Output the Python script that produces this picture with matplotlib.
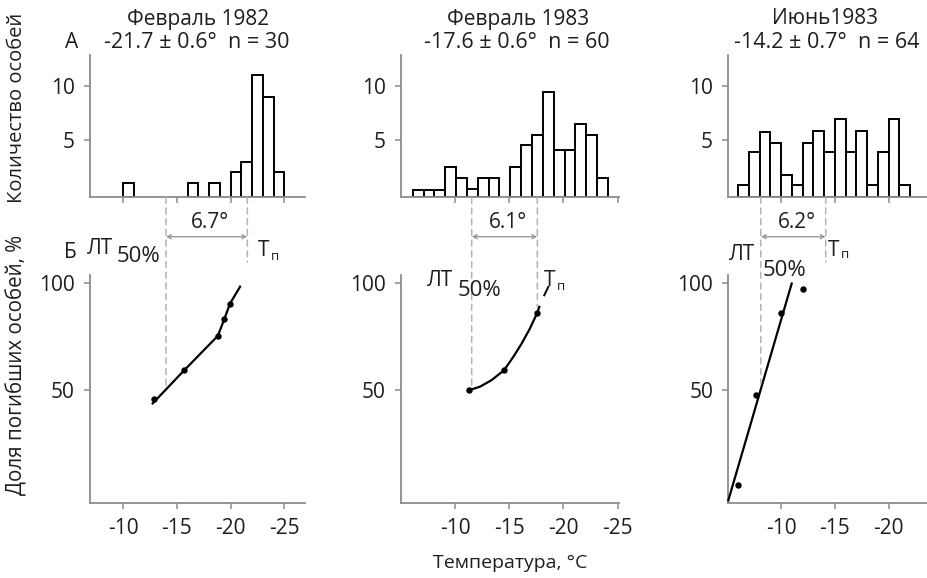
import matplotlib
matplotlib.use("Agg")
import matplotlib.pyplot as plt
from matplotlib.patches import ConnectionPatch

plt.rcParams['font.family'] = ['Open Sans', 'DejaVu Sans']
plt.rcParams['axes.unicode_minus'] = False

# === Data
titles = ["Февраль 1982", "Февраль 1983", "Июнь1983"]
stats = ["-21.7 ± 0.6°  n = 30", "-17.6 ± 0.6°  n = 60", "-14.2 ± 0.7°  n = 64"]
delta_labels = ["6.7°", "6.1°", "6.2°"]

# histograms: first bin edge (°C), 1-degree bins going colder
hist1_start = -10.0
hist1_counts = [1, 0, 0, 0, 0, 0, 1, 0, 1, 0, 2, 3, 11, 9, 2]
hist2_start = -6.1
hist2_counts = [0.4, 0.4, 0.4, 2.5, 1.5, 0.45, 1.5, 1.5, 0, 2.5, 4.5, 5.5, 9.4, 4.1, 4.1, 6.5, 5.5, 1.5]
hist3_start = -6.0
hist3_counts = [0.8, 3.9, 5.7, 4.7, 1.8, 0.8, 4.7, 5.8, 3.9, 6.9, 3.9, 5.8, 0.8, 3.9, 6.9, 0.8]

# mortality curves (% dead vs temperature)
curve1_t = [-12.74, -15.68, -18.8, -19.41, -19.94, -20.88]
curve1_p = [43.8, 59.3, 75.3, 83.1, 90.4, 98.3]
pts1_t = [-12.86, -15.68, -18.8, -19.41, -19.94]
pts1_p = [45.8, 59.3, 75.3, 83.1, 90.4]

curve2_t = [-11.32, -12.3, -13.38, -14.52, -15.37, -16.15, -16.91, -17.59, -17.77]
curve2_p = [50.0, 51.6, 54.7, 59.3, 65.5, 71.8, 78.8, 86.2, 88.9]
curve2_ext_t = [-18.23, -18.6]
curve2_ext_p = [94.3, 98.2]
pts2_t = [-11.32, -14.52, -17.59]
pts2_p = [50.0, 59.3, 86.2]

curve3_t = [-5.1, -10.99]
curve3_p = [-1.5, 99.8]
pts3_t = [-5.98, -7.68, -9.97, -12.01]
pts3_p = [5.7, 47.7, 85.8, 97.1]

# LT50% and Tп positions and where their guide lines end on the lower panel
lt50 = [-13.98, -11.54, -8.12]
tp = [-21.56, -17.59, -14.15]
lt50_end = [52, 52, 53]
tp_end = [109.8, 89.0, 109.8]

xticks = [[-10, -15, -20, -25], [-10, -15, -20, -25], [-10, -15, -20]]

# === Layout (pixels of a 927x578 canvas)
W, H = 927, 578
panel_px = [(90, 305), (401, 619), (728.3, 927)]
panel_xlim = [(-6.9, -26.93), (-5.02, -25.12), (-5.1, -23.56)]
hist_y = (55, 197.3)
low_y = (274.5, 503)
hist_ylim = (-0.31, 12.87)
low_ylim = (-2.7, 104.0)

ink = "#1e1e1e"
spine = "#8c8c8c"
guide = "#b4b4b4"


def fx(x):
    return x / W


def fy(y):
    return 1 - y / H


def style_axis(ax):
    for s in ["top", "right"]:
        ax.spines[s].set_visible(False)
    for s in ["left", "bottom"]:
        ax.spines[s].set_color(spine)
        ax.spines[s].set_linewidth(1.3)
    ax.tick_params(colors=spine, labelcolor=ink, length=4, width=1.1,
                   labelsize=15, direction="out")
    ax.tick_params(axis="y", pad=7)


fig = plt.figure(figsize=(9.27, 5.78), dpi=100)
fig.patch.set_facecolor("white")

hists = [(hist1_start, hist1_counts), (hist2_start, hist2_counts), (hist3_start, hist3_counts)]
curves = [(curve1_t, curve1_p), (curve2_t, curve2_p), (curve3_t, curve3_p)]
points = [(pts1_t, pts1_p), (pts2_t, pts2_p), (pts3_t, pts3_p)]

for i in range(3):
    x0, x1 = panel_px[i]
    # --- histogram
    axh = fig.add_axes([fx(x0), fy(hist_y[1]), fx(x1 - x0), (hist_y[1] - hist_y[0]) / H])
    start, counts = hists[i]
    lefts = [start - k for k in range(len(counts)) if counts[k] > 0]
    heights = [c - hist_ylim[0] for c in counts if c > 0]
    axh.bar(lefts, heights, width=-1, align="edge", bottom=hist_ylim[0],
            facecolor="white", edgecolor="black", linewidth=1.4)
    axh.set_xlim(*panel_xlim[i])
    axh.set_ylim(*hist_ylim)
    axh.set_xticks(xticks[i])
    axh.set_xticklabels([])
    axh.set_yticks([5, 10])
    axh.set_yticklabels(["5", "10"])
    style_axis(axh)

    # --- mortality panel
    axl = fig.add_axes([fx(x0), fy(low_y[1]), fx(x1 - x0), (low_y[1] - low_y[0]) / H])
    ct, cp = curves[i]
    axl.plot(ct, cp, color="black", lw=1.6, clip_on=False, zorder=3)
    pt, pp = points[i]
    axl.plot(pt, pp, "o", color="black", ms=3.6, clip_on=False, zorder=4)
    if i == 1:
        axl.plot(curve2_ext_t, curve2_ext_p, color="black", lw=1.4, clip_on=False)
    axl.set_xlim(*panel_xlim[i])
    axl.set_ylim(*low_ylim)
    axl.set_xticks(xticks[i])
    axl.set_xticklabels([str(t) for t in xticks[i]])
    axl.set_yticks([50, 100])
    axl.set_yticklabels(["50", "100"])
    style_axis(axl)
    axl.tick_params(axis="x", pad=7)

    # --- guide lines from histogram axis down to the curve
    for xv, yend in [(lt50[i], lt50_end[i]), (tp[i], tp_end[i])]:
        con = ConnectionPatch(xyA=(xv, hist_ylim[0]), coordsA=axh.transData,
                              xyB=(xv, yend), coordsB=axl.transData,
                              color=guide, lw=1.1, linestyle=(0, (4, 3)))
        fig.add_artist(con)

    # --- span arrow and its label
    axl.annotate("", xy=(lt50[i], fy(236.7)), xytext=(tp[i], fy(236.7)),
                 xycoords=("data", "figure fraction"),
                 textcoords=("data", "figure fraction"),
                 arrowprops=dict(arrowstyle="<->", color="#9a9a9a", lw=1.0,
                                 mutation_scale=7, shrinkA=0, shrinkB=0))
    axl.annotate(delta_labels[i], xy=((lt50[i] + tp[i]) / 2 - 0.3, fy(223)),
                 xycoords=("data", "figure fraction"),
                 ha="center", va="center", fontsize=15, color=ink)

# === Titles
title_px = [(198, 19), (518, 19), (825, 19)]
stats_px = [(197, 42), (517, 42), (827, 42)]
for i in range(3):
    fig.text(fx(title_px[i][0]), fy(title_px[i][1]), titles[i], ha="center", va="center",
             fontsize=15, color=ink)
    fig.text(fx(stats_px[i][0]), fy(stats_px[i][1]), stats[i], ha="center", va="center",
             fontsize=15.5, color=ink)

fig.text(fx(72), fy(42), "А", ha="center", va="center", fontsize=15, color=ink)
fig.text(fx(70), fy(253), "Б", ha="center", va="center", fontsize=15, color=ink)

# === LT50% / Tп labels
lt_px = [(100, 248), (440, 280), (742, 255)]
pct_px = [(138, 256), (480, 290), (784, 270)]
t_px = [(264, 251), (550, 281), (834, 250)]
n_px = [(275, 257), (561, 286), (845, 255)]
for i in range(3):
    fig.text(fx(lt_px[i][0]), fy(lt_px[i][1]), "ЛТ", ha="center", va="center", fontsize=15, color=ink)
    fig.text(fx(pct_px[i][0]), fy(pct_px[i][1]), "50%", ha="center", va="center", fontsize=16, color=ink)
    fig.text(fx(t_px[i][0]), fy(t_px[i][1]), "T", ha="center", va="center", fontsize=15, color=ink)
    fig.text(fx(n_px[i][0]), fy(n_px[i][1]), "п", ha="center", va="center", fontsize=9.5, color=ink)

# === Axis titles
fig.text(fx(17), fy(108), "Количество особей", rotation=90, ha="center", va="center",
         fontsize=14.5, color=ink)
fig.text(fx(17), fy(365), "Доля погибших особей, %", rotation=90, ha="center", va="center",
         fontsize=14.8, color=ink)
fig.text(fx(510), fy(563), "Температура, °С", ha="center", va="center", fontsize=14, color=ink)

fig.savefig("out.png", dpi=100, facecolor="white")
